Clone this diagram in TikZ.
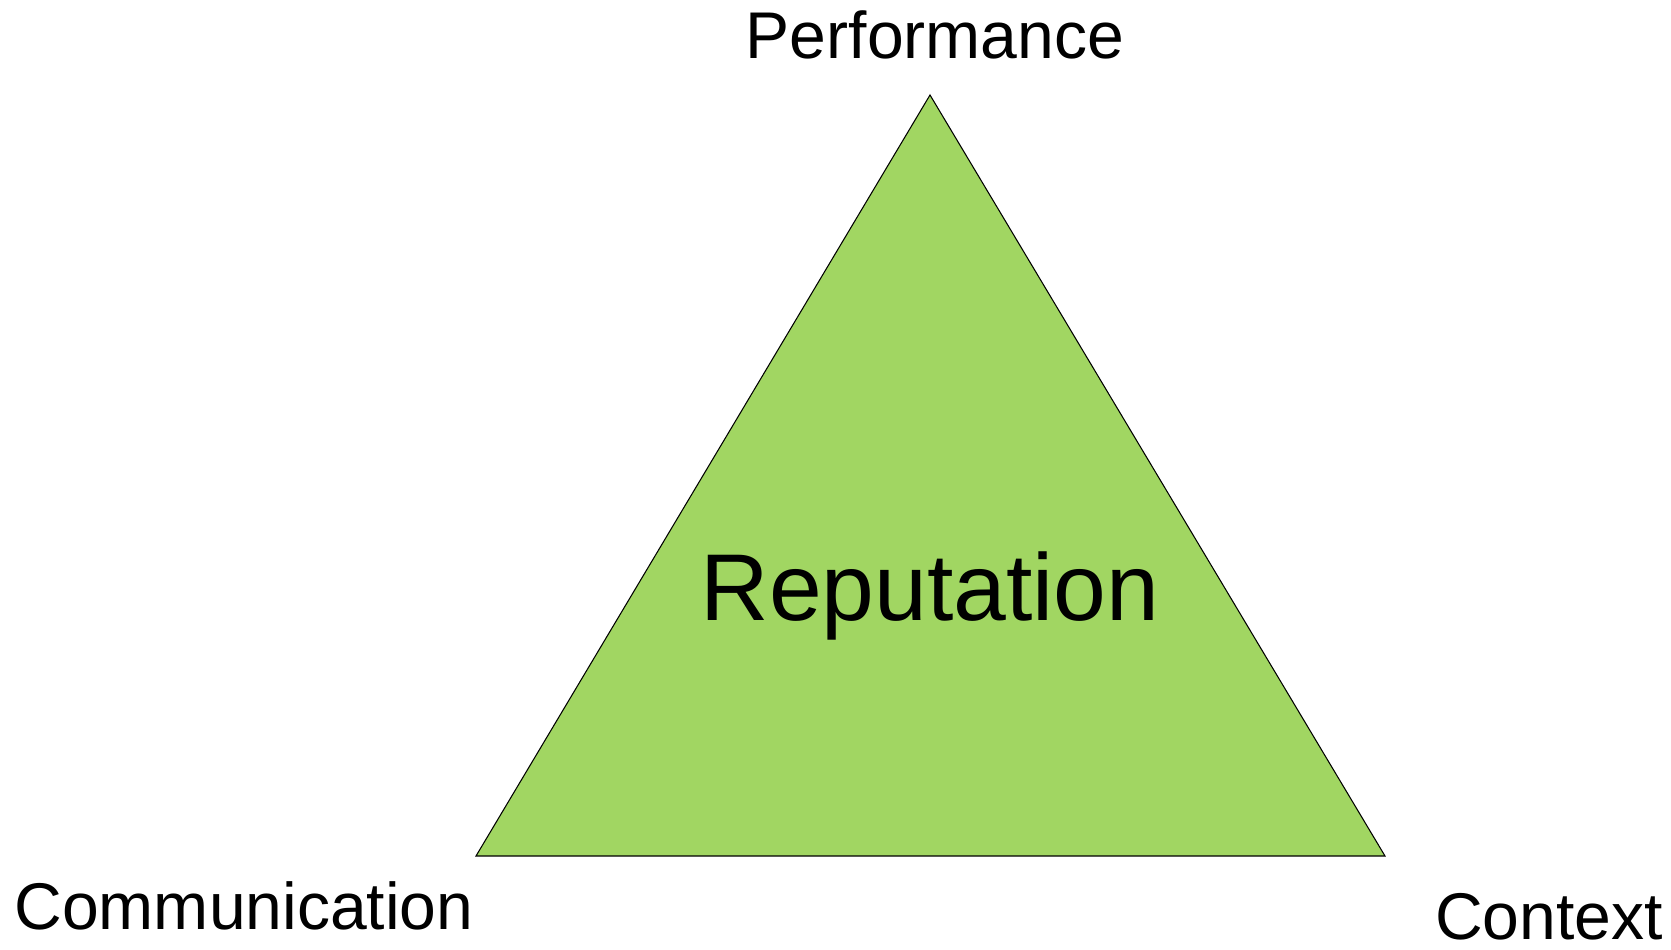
\documentclass[tikz,border=0pt]{standalone}
\usepackage{fontspec}
\setmainfont{Liberation Sans}
\usetikzlibrary{positioning}

\definecolor{repgreen}{RGB}{161,214,98}

\begin{document}
\begin{tikzpicture}[
    corner/.style={font=\fontsize{18.8}{22}\selectfont, anchor=base, inner sep=0pt},
    centre/.style={font=\fontsize{27}{32}\selectfont, anchor=base, inner sep=0pt},
]
    \useasboundingbox (0,0) rectangle (16.71,9.49);

    % the three corners
    \coordinate (top) at (9.30,8.54);
    \coordinate (left) at (4.76,0.93);
    \coordinate (right) at (13.85,0.93);
    \filldraw[fill=repgreen, draw=black, line width=0.3pt] (top) -- (left) -- (right) -- cycle;

    \node[centre] (rep) at (9.30,3.29) {Reputation};
    \node[corner] (perf) at (9.35,8.90) {Performance};
    \node[corner] (comm) at (2.44,0.20) {Communication};
    \node[corner] (ctx) at (15.49,0.10) {Context};
\end{tikzpicture}
\end{document}
